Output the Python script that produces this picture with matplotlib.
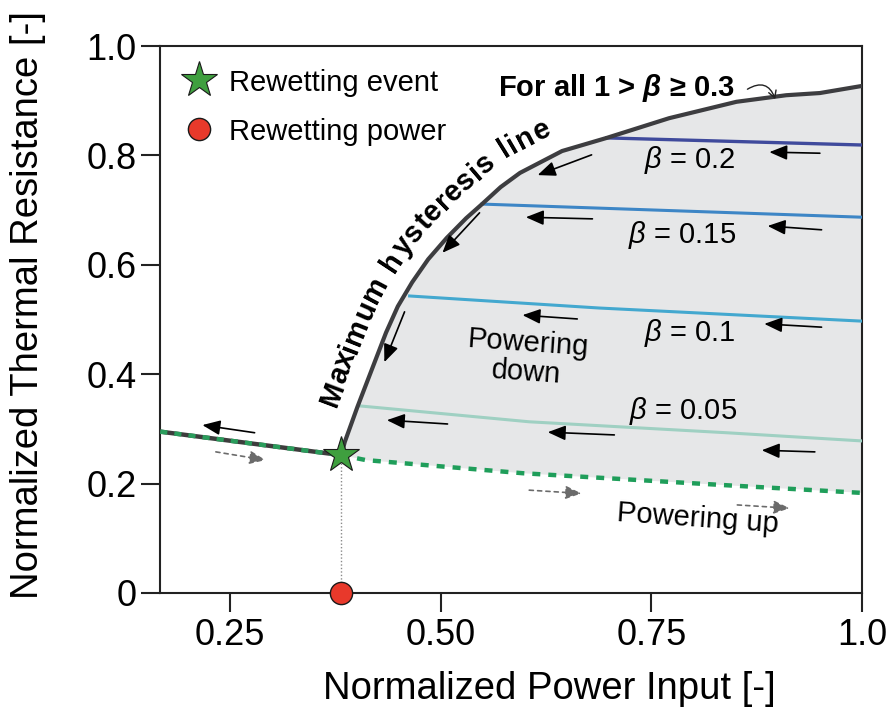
import numpy as np
import matplotlib
matplotlib.use("Agg")
import matplotlib.pyplot as plt
from matplotlib.lines import Line2D
from matplotlib.font_manager import FontProperties

plt.rcParams['font.family'] = ['Liberation Sans', 'DejaVu Sans']
plt.rcParams['mathtext.fontset'] = 'custom'
plt.rcParams['mathtext.rm'] = 'Liberation Sans'
plt.rcParams['mathtext.it'] = 'Liberation Sans:italic'
plt.rcParams['mathtext.bf'] = 'Liberation Sans:bold'
plt.rcParams['mathtext.bfit'] = 'Liberation Sans:italic:bold'

# ---------------- data ----------------
# maximum hysteresis line (powering down, from rewetting point)
max_x = [0.382, 0.386, 0.401, 0.419, 0.435, 0.449, 0.466, 0.485, 0.507, 0.530,
         0.549, 0.571, 0.594, 0.644, 0.697, 0.771, 0.851, 0.910, 0.950, 1.000]
max_y = [0.252, 0.276, 0.340, 0.412, 0.476, 0.524, 0.568, 0.610, 0.649, 0.685,
         0.711, 0.742, 0.768, 0.808, 0.832, 0.868, 0.898, 0.910, 0.914, 0.927]

# powering up branch (below rewetting -> dry)
left_x = [0.167, 0.382]
left_y = [0.295, 0.252]
up_x = [0.382, 0.411, 0.597, 0.839, 1.000]
up_y = [0.252, 0.243, 0.219, 0.197, 0.183]

# partial hysteresis lines
b020_x = [0.697, 1.000]
b020_y = [0.832, 0.819]
b015_x = [0.549, 1.000]
b015_y = [0.711, 0.687]
b010_x = [0.463, 0.688, 1.000]
b010_y = [0.543, 0.521, 0.497]
b005_x = [0.404, 0.605, 0.839, 1.000]
b005_y = [0.342, 0.313, 0.293, 0.278]

rewet_power = 0.382
rewet_resist = 0.252

x_ticks = [0.25, 0.50, 0.75, 1.0]
x_ticklabels = ['0.25', '0.50', '0.75', '1.0']
y_ticks = [0, 0.2, 0.4, 0.6, 0.8, 1.0]
y_ticklabels = ['0', '0.2', '0.4', '0.6', '0.8', '1.0']

# direction arrows (tail_x, tail_y, head_x, head_y)
down_arrows = [
    (0.279, 0.293, 0.217, 0.307),
    (0.508, 0.309, 0.436, 0.316),
    (0.706, 0.289, 0.627, 0.294),
    (0.944, 0.258, 0.881, 0.261),
    (0.662, 0.501, 0.597, 0.508),
    (0.952, 0.486, 0.884, 0.492),
    (0.680, 0.684, 0.601, 0.687),
    (0.952, 0.664, 0.888, 0.671),
    (0.950, 0.804, 0.890, 0.806),
    (0.679, 0.801, 0.615, 0.764),
    (0.546, 0.695, 0.502, 0.622),
    (0.457, 0.514, 0.433, 0.422),
]
up_arrows = [
    (0.233, 0.258, 0.292, 0.243),
    (0.605, 0.188, 0.667, 0.182),
    (0.852, 0.161, 0.914, 0.155),
]

# ---------------- figure ----------------
fig = plt.figure(figsize=(8.96, 7.19), dpi=100)
ax = fig.add_axes([160/896, 1-593/719, 702/896, 547/719])
ax.set_xlim(0.1667, 1.0)
ax.set_ylim(0, 1.0)

# shaded hysteresis region
ax.fill(np.r_[max_x, up_x[::-1]], np.r_[max_y, up_y[::-1]],
        color='#e6e7e8', lw=0, zorder=1)

# partial lines
ax.plot(b005_x, b005_y, color='#9fd0c2', lw=2.2, zorder=3)
ax.plot(b010_x, b010_y, color='#43a8cf', lw=2.2, zorder=3)
ax.plot(b015_x, b015_y, color='#3d86c6', lw=2.2, zorder=3)
ax.plot(b020_x, b020_y, color='#3f4a9c', lw=2.4, zorder=3)

# maximum hysteresis line
ax.plot(max_x, max_y, color='#3d3d40', lw=3.0, zorder=4,
        solid_capstyle='round', solid_joinstyle='round')

# powering up lines
ax.plot(left_x, left_y, color='#3d3d3d', lw=3.2, zorder=4)
ax.plot(left_x, left_y, color='#2a9d5c', lw=3.2, zorder=5, dashes=(1.6, 1.6))
ax.plot(up_x, up_y, color='#1f9e5a', lw=3.2, zorder=4, dashes=(1.8, 1.8))

# vertical dotted to rewetting power
ax.plot([rewet_power, rewet_power], [0, rewet_resist], color='#8a8a8a',
        lw=1.0, ls=(0, (1, 1.5)), zorder=2)

ax.plot([rewet_power], [rewet_resist], marker='*', ms=27, color='#3f9f3f',
        mec='#1a1a1a', mew=0.8, ls='none', zorder=8)
ax.plot([rewet_power], [0], marker='o', ms=16, color='#e8392b',
        mec='#1a1a1a', mew=1.0, ls='none', zorder=8, clip_on=False)

for tx, ty, hx, hy in down_arrows:
    ax.annotate('', xy=(hx, hy), xytext=(tx, ty),
                arrowprops=dict(arrowstyle='-|>,head_length=0.6,head_width=0.25',
                                mutation_scale=18, color='black', lw=1.2,
                                shrinkA=0, shrinkB=0), zorder=6)
for tx, ty, hx, hy in up_arrows:
    ax.annotate('', xy=(hx, hy), xytext=(tx, ty),
                arrowprops=dict(arrowstyle='-|>,head_length=0.6,head_width=0.25',
                                mutation_scale=16, color='#6b6b6b', lw=1.2,
                                linestyle=(0, (2.5, 2.5)), shrinkA=0, shrinkB=0),
                zorder=6)

# labels
fs_small = 21
ax.text(0.795, 0.792, r'$\beta$ = 0.2', fontsize=fs_small, ha='center', va='center', zorder=7)
ax.text(0.786, 0.654, r'$\beta$ = 0.15', fontsize=fs_small, ha='center', va='center', zorder=7)
ax.text(0.795, 0.475, r'$\beta$ = 0.1', fontsize=fs_small, ha='center', va='center', zorder=7)
ax.text(0.787, 0.333, r'$\beta$ = 0.05', fontsize=fs_small, ha='center', va='center', zorder=7)
ax.text(0.602, 0.430, 'Powering\ndown', fontsize=fs_small, ha='center', va='center',
        rotation=-4, linespacing=1.05, zorder=7)
ax.text(0.805, 0.135, 'Powering up', fontsize=fs_small, ha='center', va='center',
        rotation=-4, zorder=7)
ax.text(0.708, 0.923, r'For all 1 > $\mathbfit{\beta}$ ≥ 0.3', fontsize=fs_small,
        fontweight='bold', ha='center', va='center', zorder=7)
ax.annotate('', xy=(0.897, 0.903), xytext=(0.864, 0.921),
            arrowprops=dict(arrowstyle='->,head_length=0.35,head_width=0.2',
                            mutation_scale=14, color='#222222', lw=1.0,
                            connectionstyle='arc3,rad=-0.6', shrinkA=0, shrinkB=0),
            zorder=7)

# axes styling
for sp in ax.spines.values():
    sp.set_linewidth(1.5)
    sp.set_color('#222222')
ax.set_xticks(x_ticks)
ax.set_xticklabels(x_ticklabels)
ax.set_yticks(y_ticks)
ax.set_yticklabels(y_ticklabels)
ax.tick_params(axis='both', direction='out', length=14, width=1.5, color='#222222',
               labelsize=26)
ax.tick_params(axis='x', pad=4)
ax.tick_params(axis='y', pad=3)
ax.set_xlabel('Normalized Power Input [-]', fontsize=27.5)
ax.set_ylabel('Normalized Thermal Resistance [-]', fontsize=27.5)
ax.xaxis.set_label_coords(0.554, -0.142)
ax.yaxis.set_label_coords(-0.162, 0.527)

# legend
handles = [
    Line2D([], [], marker='*', ms=27, color='#3f9f3f', mec='#1a1a1a', mew=0.8, ls='none'),
    Line2D([], [], marker='o', ms=16, color='#e8392b', mec='#1a1a1a', mew=1.0, ls='none'),
]
ax.legend(handles, ['Rewetting event', 'Rewetting power'], loc='upper left',
          bbox_to_anchor=(0.0, 1.004),
          frameon=False, fontsize=21, handlelength=1.0, handletextpad=0.5,
          borderaxespad=0.45, labelspacing=0.72)

# curved text along the maximum hysteresis line
def curve_text(ax, xs, ys, text, start_px, offset_px, fp):
    fig = ax.figure
    fig.canvas.draw()
    r = fig.canvas.get_renderer()
    P = ax.transData.transform(np.column_stack([xs, ys]))
    seg = np.hypot(*np.diff(P, axis=0).T)
    s = np.r_[0, np.cumsum(seg)]

    def point(si):
        return np.array([np.interp(si, s, P[:, 0]), np.interp(si, s, P[:, 1])])

    def tangent(si, w=22):
        d = point(si + w) - point(si - w)
        return d / np.hypot(*d)

    def width(t):
        w, h, d = r.get_text_width_height_descent(t, fp, ismath=False)
        return w

    bar = width('|')
    inv = ax.transData.inverted()
    for i, ch in enumerate(text):
        if ch == ' ':
            continue
        x0 = width(text[:i] + '|') - bar if i > 0 else 0.0
        cw = width(ch)
        sc = start_px + x0 + cw / 2
        p = point(sc)
        t = tangent(sc)
        n = np.array([-t[1], t[0]])
        q = inv.transform(p + n * offset_px)
        ang = np.degrees(np.arctan2(t[1], t[0]))
        ax.text(q[0], q[1], ch, rotation=ang, rotation_mode='anchor',
                ha='center', va='baseline', fontproperties=fp, zorder=7)

fp = FontProperties(family=['Liberation Sans', 'DejaVu Sans'], size=21, weight='bold')
curve_text(ax, max_x, max_y, 'Maximum hysteresis line', 42, 20, fp)

fig.savefig('out.png', dpi=100)
